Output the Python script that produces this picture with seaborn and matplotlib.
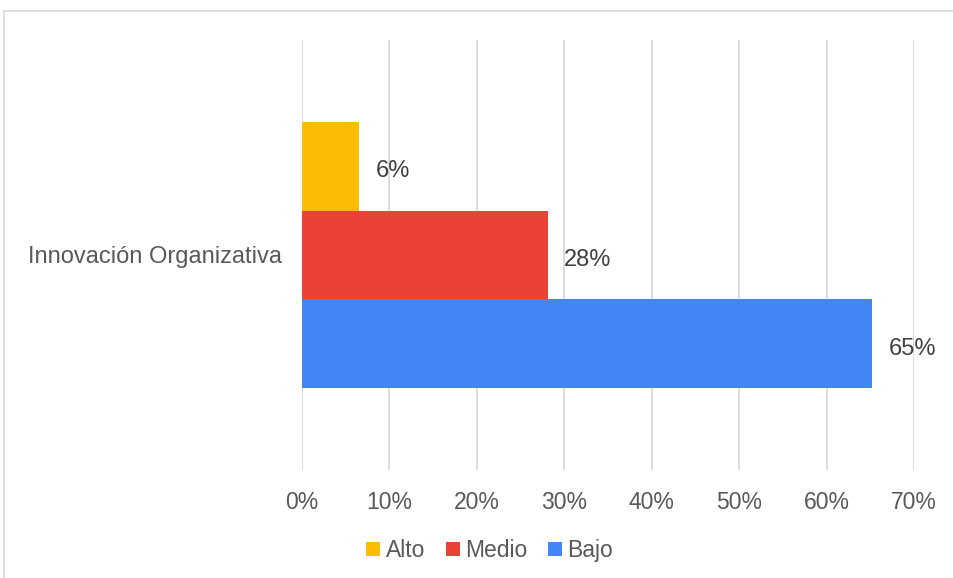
import matplotlib
matplotlib.use("Agg")
import matplotlib.pyplot as plt
import seaborn as sns
import pandas as pd
from matplotlib.lines import Line2D
from matplotlib.ticker import PercentFormatter

# Data
categories = ["Innovación Organizativa"]
levels = ["Alto", "Medio", "Bajo"]
shares = [0.065, 0.281, 0.652]
colors = ["#FBBC04", "#EA4335", "#4285F4"]
tick_values = [0, 0.1, 0.2, 0.3, 0.4, 0.5, 0.6, 0.7]

df = pd.DataFrame({
    "categoria": categories * len(levels),
    "nivel": levels,
    "valor": shares,
})

sns.set_theme(style="white")
plt.rcParams["font.family"] = ["Liberation Sans", "DejaVu Sans"]
text_color = "#595959"
grid_color = "#D9D9D9"

fig = plt.figure(figsize=(9.54, 5.78), dpi=100)
ax = fig.add_axes([302 / 954, 108 / 578, 612 / 954, 430 / 578])

sns.barplot(data=df, y="categoria", x="valor", hue="nivel", hue_order=levels,
            palette=colors, orient="h", width=0.62, saturation=1,
            linewidth=0, legend=False, ax=ax)

ax.set_xlim(0, 0.7)
ax.set_xticks(tick_values)
ax.xaxis.set_major_formatter(PercentFormatter(1.0, decimals=0))
ax.grid(axis="x", color=grid_color, linewidth=1.3)
ax.set_axisbelow(True)
for s in ax.spines.values():
    s.set_visible(False)
ax.set_xlabel("")
ax.set_ylabel("")
ax.tick_params(axis="x", length=0, pad=15, labelsize=16.5, labelcolor=text_color)
ax.tick_params(axis="y", length=0, pad=14.5, labelsize=17, labelcolor=text_color)

# Value labels at the end of each bar, sitting slightly below the bar centre
for container in ax.containers:
    anns = ax.bar_label(container, labels=[f"{v:.0%}" for v in container.datavalues],
                        padding=12, fontsize=17, color="#404040")
    for a in anns:
        a.xyann = (12, -3.5)

# Legend with square markers
handles = [Line2D([0], [0], marker="s", linestyle="", markersize=10,
                  markerfacecolor=c, markeredgewidth=0) for c in colors]
fig.legend(handles, levels, loc="center", bbox_to_anchor=(488 / 954, 1 - 550.5 / 578),
           ncol=3, frameon=False, fontsize=16.5, labelcolor=text_color,
           handletextpad=0.1, columnspacing=0.75, handlelength=0.9)

# Outer chart frame
fig.add_artist(Line2D([4 / 954, 1], [1 - 11 / 578, 1 - 11 / 578], color=grid_color,
                      linewidth=1.2, transform=fig.transFigure))
fig.add_artist(Line2D([4 / 954, 4 / 954], [0, 1 - 11 / 578], color=grid_color,
                      linewidth=1.2, transform=fig.transFigure))

fig.savefig("out.png", dpi=100)
